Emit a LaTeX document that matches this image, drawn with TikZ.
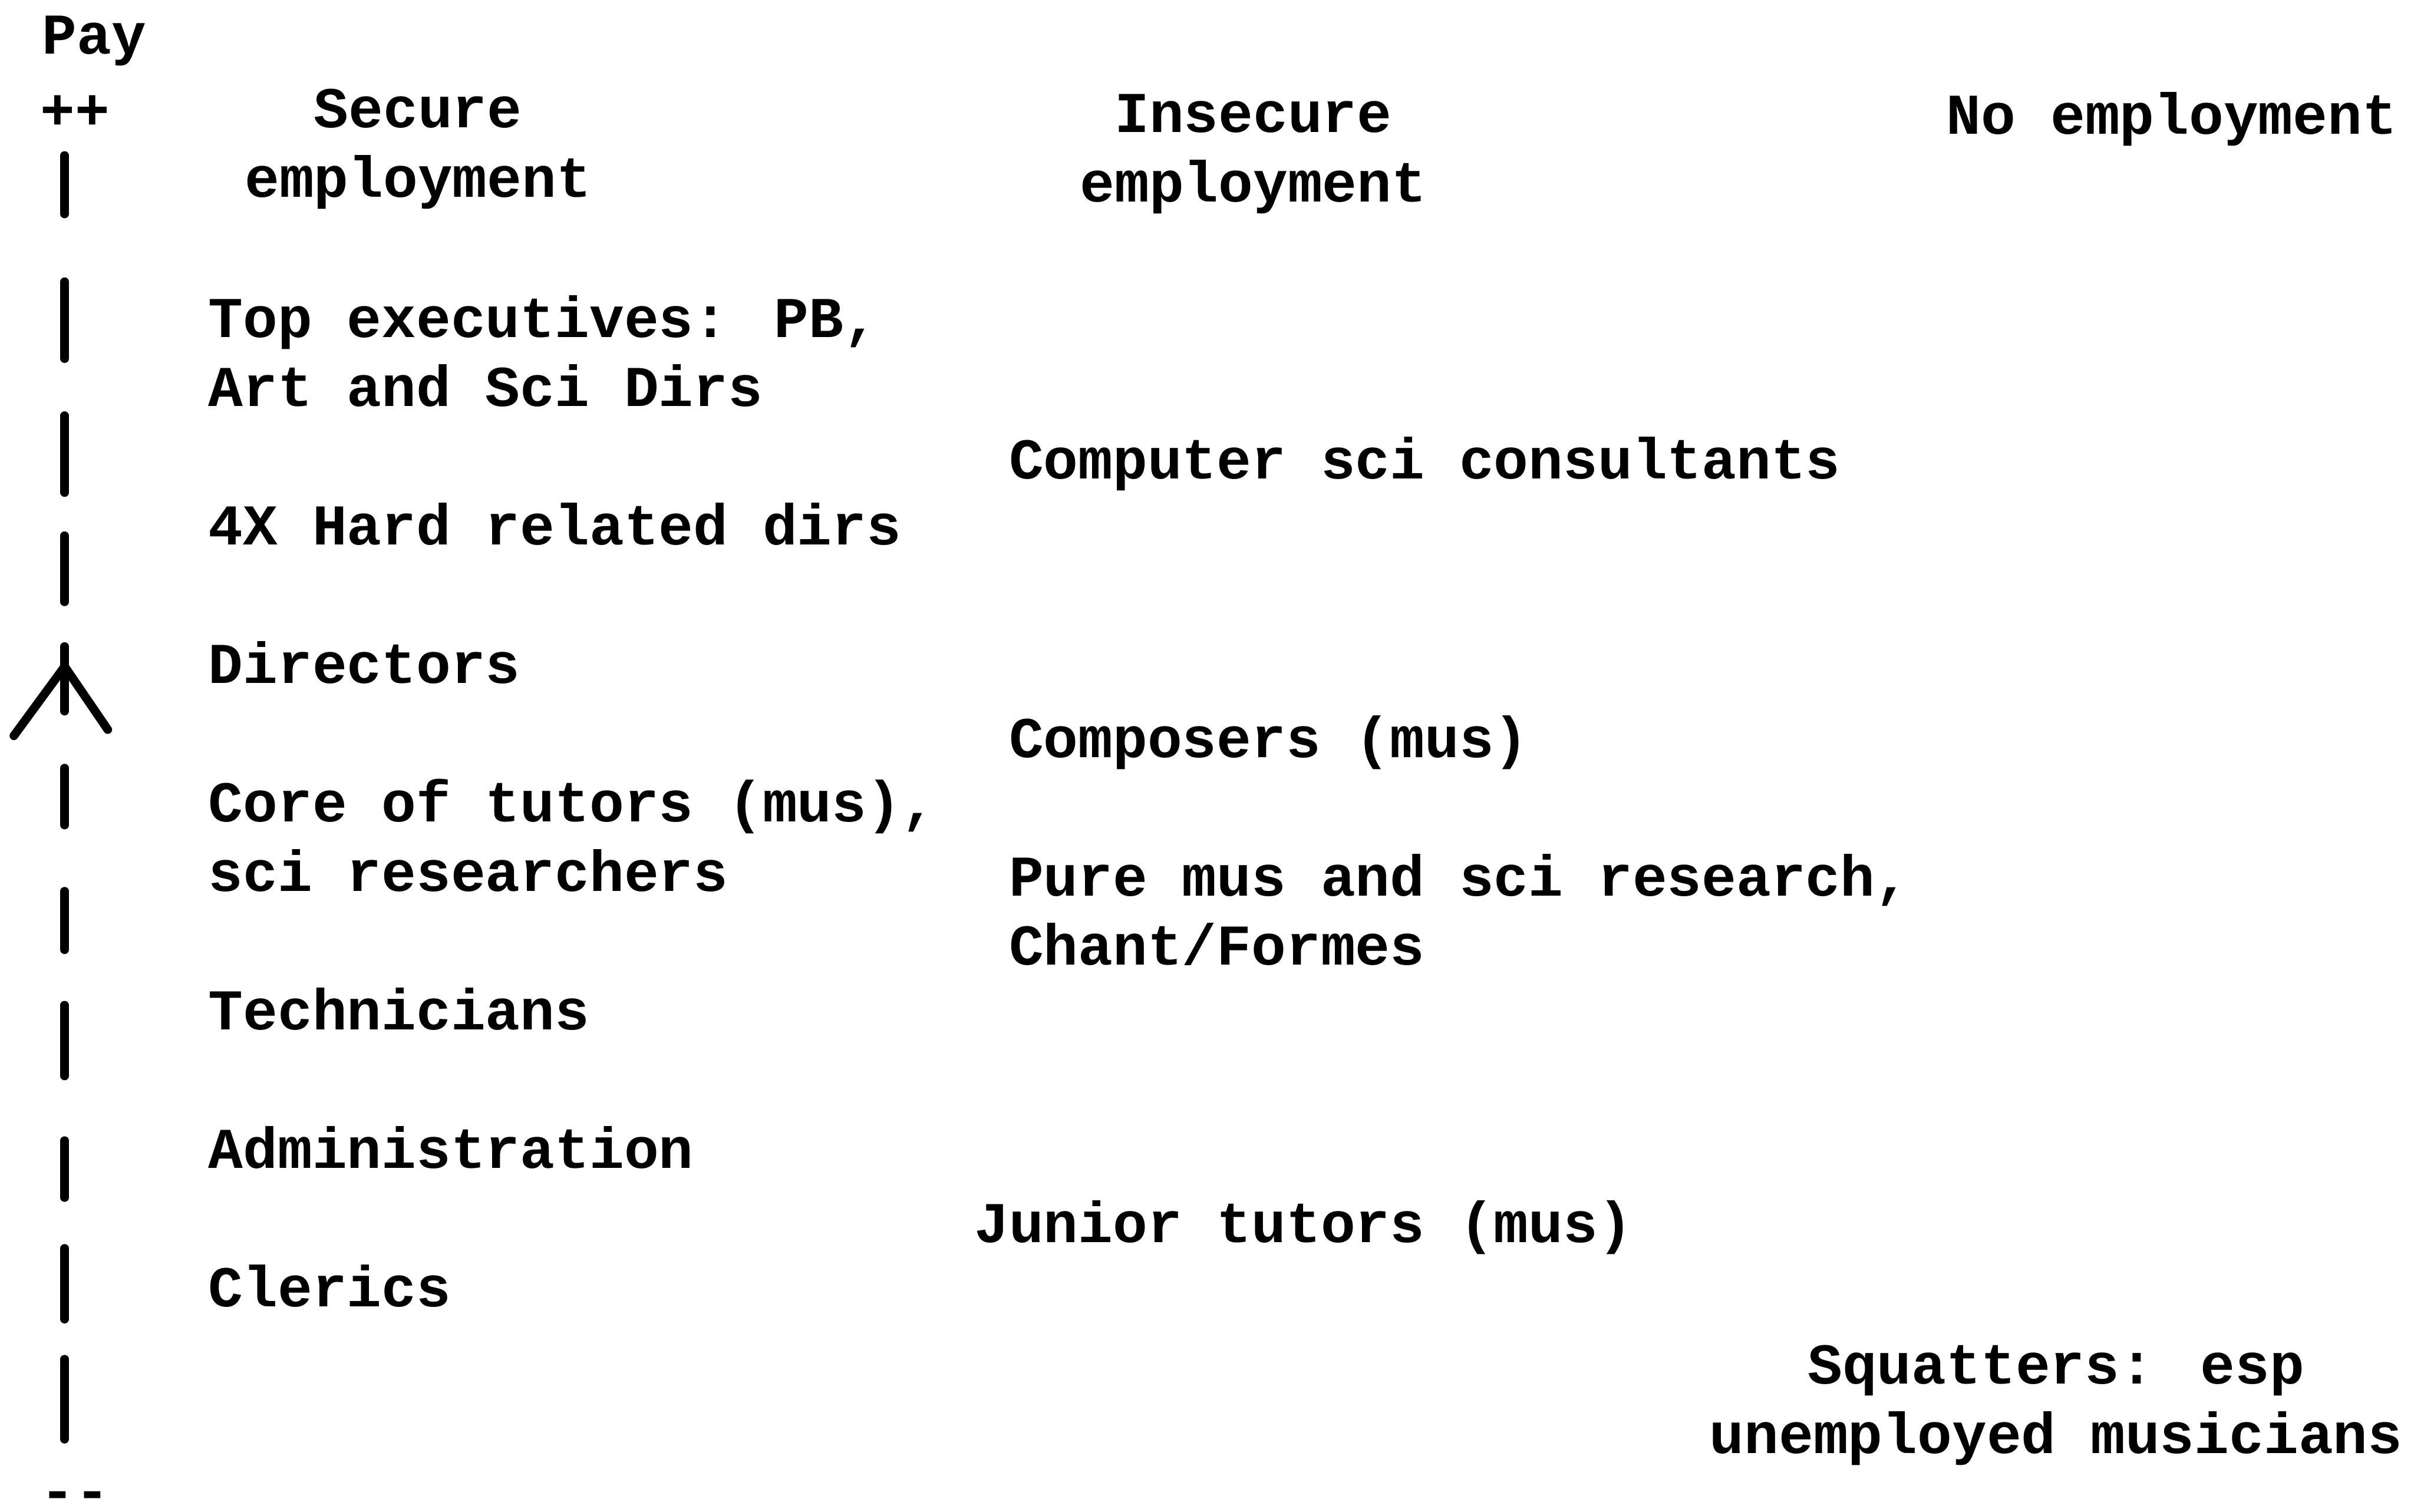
\documentclass[tikz,border=0pt]{standalone}
\usepackage{fontspec}
\newfontfamily\typewriter{Liberation Mono}
\begin{document}
\begin{tikzpicture}[x=0.5pt, y=-0.5pt,
    every node/.style={inner sep=0pt, font=\typewriter\bfseries\fontsize{18.75}{22.5}\selectfont},
    rung/.style={line width=2.8pt, line cap=round}]
  \useasboundingbox (0,0) rectangle (1568,982);

  \node [anchor=base west] (pay) at (27,35) {Pay};
  \node [anchor=base west] (high) at (26,84) {++};
  \node [anchor=base west] (low) at (26,981) {--};

  \foreach \a/\b in {101/139, 183/233, 270/320, 348/391, 420/462, 499/536,
                     579/617, 653/699, 741/778, 811/857, 883/935}
    \draw [rung] (42,\a) -- (42,\b);
  \draw [rung] (9,478) -- (42,433) -- (70,474);

  \node [anchor=base, align=center] (secure) at (271.5,128) {Secure\\employment};
  \node [anchor=base, align=center] (insecure) at (814,131) {Insecure\\employment};
  \node [anchor=base west] (none) at (1264,87) {No employment};

  \node [anchor=base west, align=left] (execs) at (135,264) {Top executives: PB,\\Art and Sci Dirs};
  \node [anchor=base west] (hard) at (135,354) {4X Hard related dirs};
  \node [anchor=base west] (dirs) at (135,444) {Directors};
  \node [anchor=base west, align=left] (core) at (135,579) {Core of tutors (mus),\\sci researchers};
  \node [anchor=base west] (techs) at (135,669) {Technicians};
  \node [anchor=base west] (admin) at (135,759) {Administration};
  \node [anchor=base west] (clerics) at (135,849) {Clerics};

  \node [anchor=base west] (consult) at (655,311) {Computer sci consultants};
  \node [anchor=base west] (composers) at (655,492) {Composers (mus)};
  \node [anchor=base west, align=left] (research) at (655,627) {Pure mus and sci research,\\Chant/Formes};
  \node [anchor=base west] (junior) at (632.5,807) {Junior tutors (mus)};

  \node [anchor=base, align=center] (squat) at (1335.5,944) {Squatters: esp\\unemployed musicians};
\end{tikzpicture}
\end{document}
